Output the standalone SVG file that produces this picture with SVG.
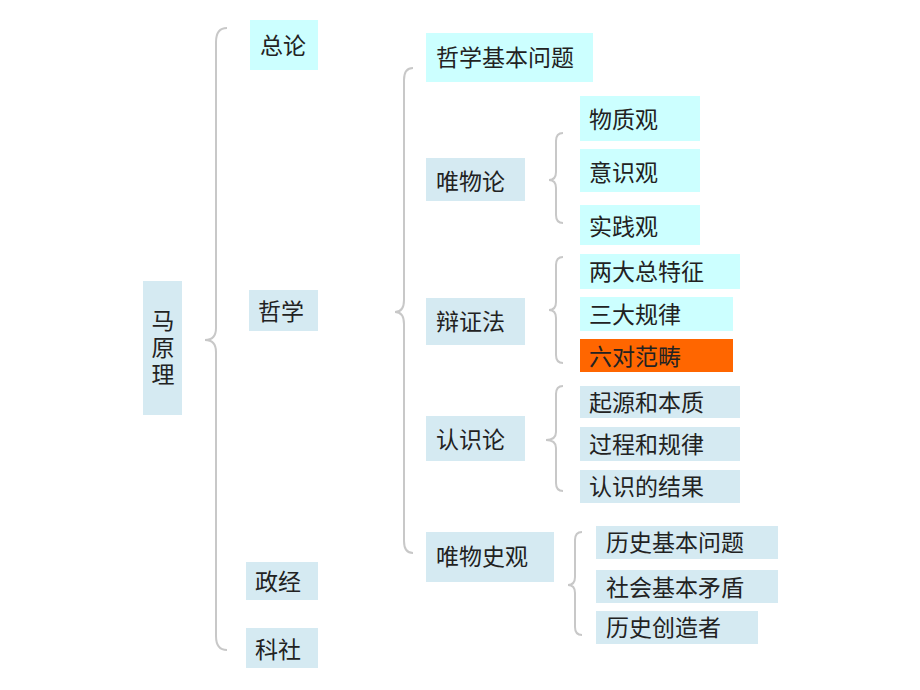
<svg xmlns="http://www.w3.org/2000/svg" width="920" height="690" viewBox="0 0 920 690">
<style>
.c{fill:#ccffff}
.b{fill:#d5eaf2}
.o{fill:#ff6600}
text{font-family:"Noto Sans CJK SC","Liberation Sans",sans-serif;font-size:23px;fill:#222}
.v{writing-mode:vertical-rl;letter-spacing:4px}
.br{fill:none;stroke:#c8c8c8;stroke-width:2}
</style>
<rect width="920" height="690" fill="#fff"/>
<g id="connectors">
<path class="br" d="M227 28 Q216 28 216 42 L216 328 Q216 340 205 340 Q216 340 216 352 L216 636 Q216 650 227 650"/>
<path class="br" d="M413 68 Q404 68 404 80 L404 300 Q404 312 395 312 Q404 312 404 324 L404 541 Q404 553 413 553"/>
<path class="br" d="M563 133 Q556 133 556 141 L556 172 Q556 180 549 180 Q556 180 556 188 L556 215 Q556 223 563 223"/>
<path class="br" d="M563 257 Q556 257 556 265 L556 302 Q556 310 549 310 Q556 310 556 318 L556 355 Q556 363 563 363"/>
<path class="br" d="M563 386 Q556 386 556 394 L556 432 Q556 440 546 440 Q556 440 556 448 L556 483 Q556 491 563 491"/>
<path class="br" d="M582 532 Q575 532 575 540 L575 577 Q575 585 568 585 Q575 585 575 593 L575 627 Q575 635 582 635"/>
</g>
<g id="n-mayuanli"><rect class="b" x="143" y="281" width="39" height="134"/><text class="v" x="163" y="309">马原理</text></g>
<g id="n-zonglun"><rect class="c" x="250" y="20" width="68" height="50"/><text x="260" y="54">总论</text></g>
<g id="n-zhexue"><rect class="b" x="249" y="290" width="69" height="41"/><text x="258" y="320">哲学</text></g>
<g id="n-zhengjing"><rect class="b" x="246" y="562" width="72" height="38"/><text x="255" y="590">政经</text></g>
<g id="n-keshe"><rect class="b" x="246" y="628" width="72" height="40"/><text x="255" y="658">科社</text></g>
<g id="n-zxjbwt"><rect class="c" x="426" y="33" width="167" height="49"/><text x="436" y="66">哲学基本问题</text></g>
<g id="n-wwl"><rect class="b" x="426" y="158" width="99" height="43"/><text x="436" y="190">唯物论</text></g>
<g id="n-wzg"><rect class="c" x="580" y="96" width="120" height="45"/><text x="589" y="128">物质观</text></g>
<g id="n-ysg"><rect class="c" x="580" y="149" width="120" height="43"/><text x="589" y="181">意识观</text></g>
<g id="n-sjg"><rect class="c" x="580" y="205" width="120" height="40"/><text x="589" y="235">实践观</text></g>
<g id="n-bzf"><rect class="b" x="426" y="298" width="99" height="47"/><text x="436" y="330">辩证法</text></g>
<g id="n-ldztz"><rect class="c" x="580" y="254" width="160" height="35"/><text x="589" y="280">两大总特征</text></g>
<g id="n-sdgl"><rect class="c" x="580" y="297" width="153" height="34"/><text x="589" y="323">三大规律</text></g>
<g id="n-ldfc"><rect class="o" x="580" y="339" width="153" height="33"/><text x="589" y="365">六对范畴</text></g>
<g id="n-rsl"><rect class="b" x="426" y="416" width="99" height="45"/><text x="436" y="448">认识论</text></g>
<g id="n-qyhbz"><rect class="b" x="580" y="386" width="160" height="32"/><text x="589" y="411">起源和本质</text></g>
<g id="n-gchgl"><rect class="b" x="580" y="427" width="160" height="34"/><text x="589" y="453">过程和规律</text></g>
<g id="n-rsdjg"><rect class="b" x="580" y="470" width="160" height="33"/><text x="589" y="495">认识的结果</text></g>
<g id="n-wwsg"><rect class="b" x="426" y="532" width="128" height="50"/><text x="436" y="565">唯物史观</text></g>
<g id="n-lsjbwt"><rect class="b" x="596" y="526" width="182" height="33"/><text x="606" y="551">历史基本问题</text></g>
<g id="n-shjbmd"><rect class="b" x="596" y="570" width="182" height="33"/><text x="606" y="596">社会基本矛盾</text></g>
<g id="n-lscz"><rect class="b" x="596" y="611" width="162" height="33"/><text x="606" y="636">历史创造者</text></g>
</svg>
